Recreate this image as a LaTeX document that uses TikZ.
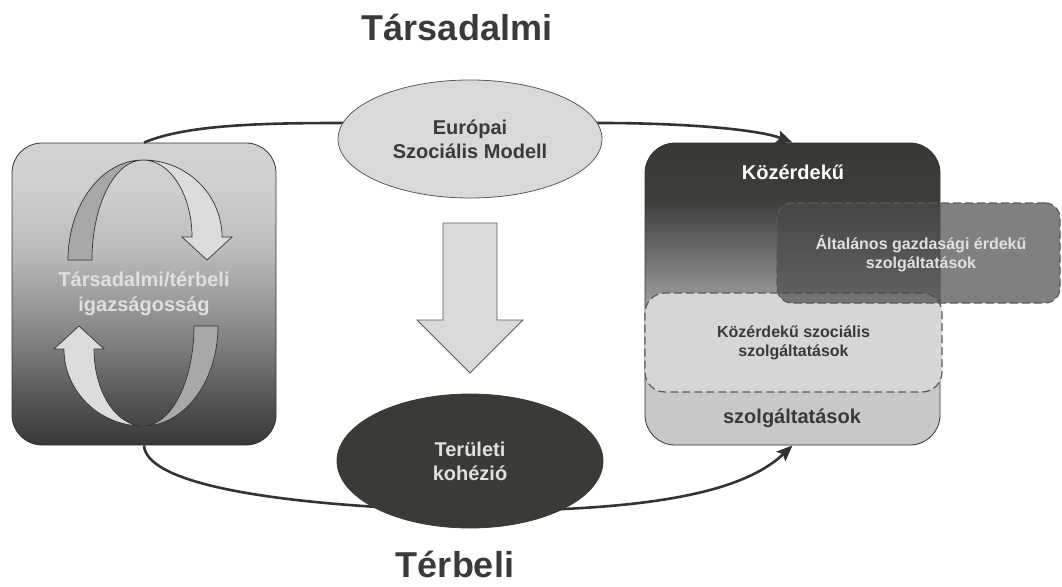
\documentclass[tikz,border=0pt]{standalone}
\usepackage{fontspec}
\setmainfont{Liberation Sans}
\usetikzlibrary{shapes.geometric,arrows.meta}

\definecolor{ls1}{HTML}{383838}
\definecolor{ls2}{HTML}{555555}
\definecolor{ls3}{HTML}{7A7A7A}
\definecolor{ls4}{HTML}{9C9C9C}
\definecolor{ls5}{HTML}{BCBCBC}
\definecolor{ls6}{HTML}{CECECE}
\definecolor{ls7}{HTML}{D2D2D2}
\definecolor{rs1}{HTML}{C8C8C8}
\definecolor{rs2}{HTML}{9A9A9A}
\definecolor{rs3}{HTML}{6A6A6A}
\definecolor{rs4}{HTML}{3D3D3A}
\definecolor{rs5}{HTML}{383835}
\definecolor{lineC}{HTML}{333333}
\definecolor{ellLight}{HTML}{D9D9D9}
\definecolor{ellDark}{HTML}{3A3A36}
\definecolor{bandDark}{HTML}{A8A8A8}
\definecolor{bandLight}{HTML}{DCDCDC}
\definecolor{dashOne}{HTML}{D6D6D6}
\definecolor{dashTwo}{HTML}{4A4A4A}
\definecolor{dashLine}{HTML}{5A5A5A}
\definecolor{txtDark}{HTML}{3A3A3A}
\definecolor{txtLight}{HTML}{E0E0E0}

\pgfdeclareverticalshading{leftshade}{100bp}{color(0bp)=(ls1); color(25bp)=(ls1); color(32.5bp)=(ls2); color(40.7bp)=(ls3); color(49bp)=(ls4); color(57.3bp)=(ls5); color(67.2bp)=(ls6); color(75bp)=(ls7); color(100bp)=(ls7)}
\pgfdeclareverticalshading{rightshade}{100bp}{color(0bp)=(rs1); color(25bp)=(rs1); color(33.8bp)=(rs1); color(49bp)=(rs2); color(57.3bp)=(rs3); color(65.6bp)=(rs4); color(75bp)=(rs5); color(100bp)=(rs5)}

\begin{document}
\begin{tikzpicture}[x=1pt,y=-1pt,
  bigbox/.style={draw=lineC, line width=0.8pt, rounded corners=30pt, minimum height=302pt, inner sep=0pt},
  conn/.style={draw=lineC, line width=2.6pt, -{Stealth[length=16pt,width=13pt,inset=3pt]}},
  ellnode/.style={ellipse, draw=dashLine, line width=0.8pt, inner sep=0pt, align=center, font=\bfseries\fontsize{20}{24}\selectfont},
  band/.style={draw=lineC, line width=0.7pt},
  mediumtext/.style={font=\bfseries\fontsize{20}{25}\selectfont, align=center},
  smalltext/.style={font=\bfseries\fontsize{16}{19}\selectfont, align=center},
  titletext/.style={font=\bfseries\fontsize{36}{40}\selectfont, text=txtDark, anchor=base, inner sep=0pt},
  dashbox/.style={draw=dashLine, dashed, dash pattern=on 8pt off 4pt, line width=1.2pt, inner sep=0pt}
]
\useasboundingbox (0,0) rectangle (1062,586);

% main boxes
\node[bigbox, shading=leftshade, minimum width=264pt] (L) at (144,294) {};
\node[bigbox, shading=rightshade, minimum width=295pt] (R) at (792.5,294) {};

% ribbons in the left box
\filldraw[band, fill=bandDark] (68,260) .. controls (68,204.8) and (101.6,160) .. (143,160)
   .. controls (114.8,160) and (92,204.8) .. (92,260) -- cycle;
\filldraw[band, fill=bandLight] (143,160) .. controls (186.6,160) and (222,194.5) .. (222,237)
   -- (232,237) -- (207,260) -- (182,237) -- (192,237)
   .. controls (192,194.5) and (170,160) .. (143,160) -- cycle;
\begin{scope}[rotate around={180:(143,293)}]
\filldraw[band, fill=bandDark] (68,260) .. controls (68,204.8) and (101.6,160) .. (143,160)
   .. controls (114.8,160) and (92,204.8) .. (92,260) -- cycle;
\filldraw[band, fill=bandLight] (143,160) .. controls (186.6,160) and (222,194.5) .. (222,237)
   -- (232,237) -- (207,260) -- (182,237) -- (192,237)
   .. controls (192,194.5) and (170,160) .. (143,160) -- cycle;
\end{scope}
\node[mediumtext, text=txtLight] (Ltext) at (144,294) {Társadalmi/térbeli\\igazságosság};

% dashed boxes in the right box
\node[dashbox, rounded corners=20pt, fill=dashOne, minimum width=297pt, minimum height=99pt,
      smalltext, text=txtDark] (KSz) at (793.5,342.5) {Közérdekű szociális\\szolgáltatások};
\node[dashbox, rounded corners=15pt, fill=dashTwo, fill opacity=0.7, text opacity=1,
      minimum width=283pt, minimum height=100pt] (AG) at (918.5,253) {};
\node[smalltext, text=txtLight] (AGtext) at (921,254) {Általános gazdasági érdekű\\szolgáltatások};
\node[mediumtext, text=white] (Kozerd) at (793,172) {Közérdekű};
\node[mediumtext, text=txtDark] (Szolg) at (792,418) {szolgáltatások};

% connectors (ellipses are drawn over them)
\draw[conn] (L.north) .. controls (185,125) and (260,123) .. (340,123) -- (600,123)
   .. controls (690,123) and (760,130) .. (R.north);
\draw[conn] (L.south) .. controls (146,480) and (250,505) .. (470,511)
   .. controls (640,511) and (740,495) .. (R.south);

% ellipses
\node[ellnode, fill=ellLight, text=txtDark, minimum width=264pt, minimum height=118pt] (ESM) at (470,139) {Európai\\Szociális Modell};
\node[ellnode, fill=ellDark, draw=ellDark, text=txtLight, minimum width=266pt, minimum height=134pt] (TK) at (470,461) {Területi\\kohézió};

% down arrow
\filldraw[draw=dashLine, line width=0.8pt, fill=ellLight] (443,223) -- (497,223) -- (497,320) -- (523,320)
   -- (470,373) -- (417,320) -- (443,320) -- cycle;

% titles
\node[titletext] (T1) at (457,41) {Társadalmi};
\node[titletext] (T2) at (455,577) {Térbeli};
\end{tikzpicture}
\end{document}
